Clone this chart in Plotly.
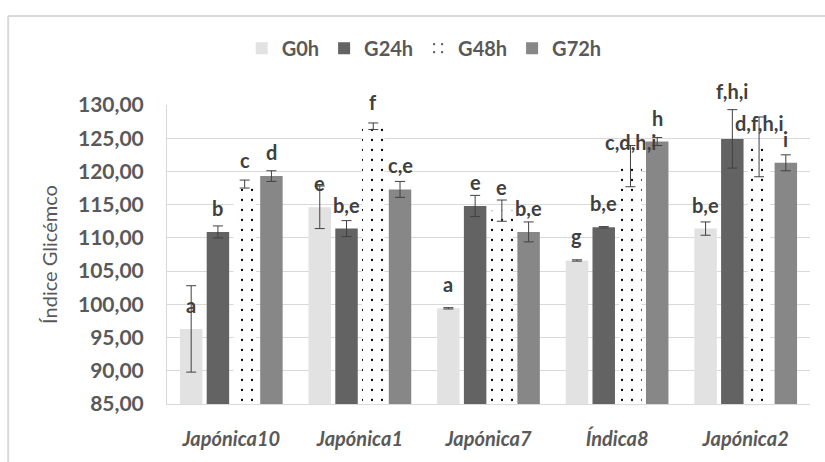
import plotly.graph_objects as go

categories = ["Japónica10", "Japónica1", "Japónica7", "Índica8", "Japónica2"]
series_names = ["G0h", "G24h", "G48h", "G72h"]

g0h = [96.3, 114.6, 99.4, 106.6, 111.4]
g24h = [110.9, 111.4, 114.8, 111.6, 124.9]
g48h = [118.1, 126.8, 114.1, 120.8, 123.7]
g72h = [119.3, 117.3, 110.9, 124.5, 121.3]

g0h_err = [6.5, 3.2, 0.1, 0.1, 1.0]
g24h_err = [0.9, 1.2, 1.6, 0.1, 4.4]
g48h_err = [0.6, 0.5, 1.6, 3.1, 4.5]
g72h_err = [0.8, 1.2, 1.5, 0.6, 1.2]

g0h_labels = ["a", "e", "a", "g", "b,e"]
g24h_labels = ["b", "b,e", "e", "b,e", "f,h,i"]
g48h_labels = ["c", "f", "e", "c,d,h,i", "d,f,h,i"]
g72h_labels = ["d", "c,e", "b,e", "h", "i"]

y_ticks = [85, 90, 95, 100, 105, 110, 115, 120, 125, 130]
y_ticktext = ["85,00", "90,00", "95,00", "100,00", "105,00", "110,00",
              "115,00", "120,00", "125,00", "130,00"]

values = [g0h, g24h, g48h, g72h]
errors = [g0h_err, g24h_err, g48h_err, g72h_err]
labels = [g0h_labels, g24h_labels, g48h_labels, g72h_labels]

FONT = "Lato"
TXT = "#595959"
LBL = "#404040"
colors = ["#e2e2e2", "#636363", "#ffffff", "#878787"]

BARGAP = 0.168
BARGROUPGAP = 0.16

fig = go.Figure()
for j, name in enumerate(series_names):
    marker = dict(color=colors[j], line=dict(width=0))
    if name == "G48h":
        marker["pattern"] = dict(shape=".", fgcolor="#000000", bgcolor="#ffffff",
                                 size=10, solidity=0.04, fillmode="replace")
    fig.add_trace(go.Bar(
        name=name, x=categories, y=values[j],
        marker=marker,
        error_y=dict(type="data", array=errors[j], visible=True,
                     color="#404040", thickness=1, width=5),
    ))

# data labels above bars
n = len(series_names)
slot = (1 - BARGAP) / n
special_shift = {(4, 1): 48}
for j in range(n):
    for i in range(len(categories)):
        xpos = i - (1 - BARGAP) / 2 + (j + 0.5) * slot
        fig.add_annotation(
            x=xpos, y=values[j][i], xref="x", yref="y",
            text="<b>%s</b>" % labels[j][i], showarrow=False,
            yshift=special_shift.get((i, j), 24), yanchor="middle",
            font=dict(family=FONT, size=20, color=LBL),
        )

# outer chart frame
frame = "#d9d9d9"
fig.add_shape(type="line", xref="paper", yref="paper", x0=-0.247, x1=1.05,
              y0=1.298, y1=1.298, line=dict(color=frame, width=2))
fig.add_shape(type="line", xref="paper", yref="paper", x0=-0.247, x1=-0.247,
              y0=1.298, y1=-0.3, line=dict(color=frame, width=2))

fig.update_layout(
    width=825, height=462,
    margin=dict(l=167, r=15, t=105, b=55),
    paper_bgcolor="white", plot_bgcolor="white",
    barmode="group", bargap=BARGAP, bargroupgap=BARGROUPGAP,
    font=dict(family=FONT, color=TXT),
    showlegend=True,
    legend=dict(orientation="h", x=0.40, xanchor="center", y=1.19, yanchor="middle",
                font=dict(family=FONT, size=20, color=TXT, weight="bold"),
                itemwidth=30, bgcolor="rgba(0,0,0,0)"),
    xaxis=dict(type="category", showline=True, linecolor="#d9d9d9", linewidth=1,
               ticks="", ticklabelstandoff=17,
               tickfont=dict(family=FONT, size=20, color=TXT, weight="bold", style="italic")),
    yaxis=dict(range=[85, 130], tickvals=y_ticks, ticktext=y_ticktext,
               showgrid=True, gridcolor="#d9d9d9", gridwidth=1,
               showline=True, linecolor="#d9d9d9", linewidth=1,
               zeroline=False, ticks="", ticklabelstandoff=18,
               tickfont=dict(family=FONT, size=21, color=TXT, weight="bold"),
               title=dict(text="Índice Glicémco", standoff=14,
                          font=dict(family=FONT, size=20, color=TXT))),
)

fig.write_html("out.html")
